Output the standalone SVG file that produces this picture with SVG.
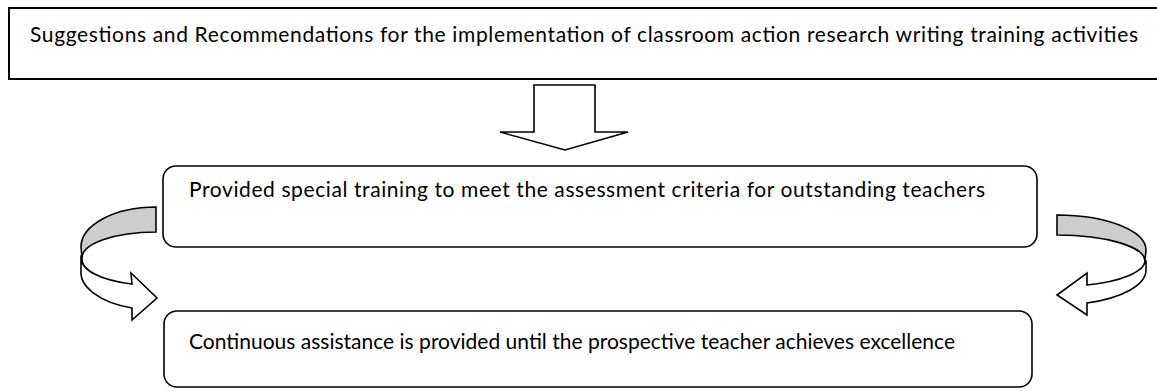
<svg xmlns="http://www.w3.org/2000/svg" width="1157" height="391" viewBox="0 0 1157 391">
<style>
.box{fill:#fff;stroke:#000;stroke-width:1.6}
.top{fill:#fff;stroke:#000;stroke-width:2}
.txt{font-family:Lato,"Open Sans","Liberation Sans",sans-serif;font-size:21px;fill:#000}
.arr{fill:#fff;stroke:#000;stroke-width:1.6;stroke-linejoin:miter}
.back{fill:#cdcdcd;stroke:#000;stroke-width:1.6}
</style>
<rect width="1157" height="391" fill="#fff"/>
<g id="node-suggestions">
<rect class="top" x="9" y="8" width="1170" height="71"/>
<text class="txt" x="30" y="42" textLength="1108">Suggestions and Recommendations for the implementation of classroom action research writing training activities</text>
</g>
<g id="node-training">
<rect class="box" x="163" y="166" width="874" height="81" rx="13"/>
<text class="txt" x="189" y="197" textLength="796">Provided special training to meet the assessment criteria for outstanding teachers</text>
</g>
<g id="node-assistance">
<rect class="box" x="164" y="311" width="868" height="76" rx="13"/>
<text class="txt" x="189" y="349" textLength="766">Continuous assistance is provided until the prospective teacher achieves excellence</text>
</g>
<g id="connectors">
<path class="arr" d="M534,85 L595,85 L595,132 L628,132 L565,150 L500,132 L534,132 Z"/>
<g id="loop-left">
<path class="arr" d="M81,257 L81,270 A75,38 0 0 0 132,308 L132,320 L157,298 L131,273 L132,284 A74,26 0 0 1 82,258 Z"/>
<path class="back" d="M156,207 A75,40 0 0 0 81,247 L82,258 A74,26 0 0 1 156,232 Z"/>
</g>
<g id="loop-right">
<path class="arr" d="M1146,261 L1146,270 A89,35 0 0 1 1087,303 L1087,315 L1057,295 L1087,273 L1087,285 A88,26 0 0 0 1145,261 Z"/>
<path class="back" d="M1057,215 A89,35 0 0 1 1146,250 L1145,261 A88,26 0 0 0 1057,235 Z"/>
</g>
</g>
</svg>
